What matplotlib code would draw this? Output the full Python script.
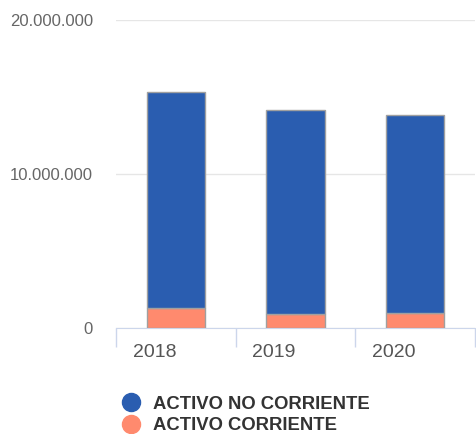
import matplotlib.pyplot as plt
from matplotlib.lines import Line2D
import numpy as np

years = ["2018", "2019", "2020"]
activo_corriente = [1280000, 890000, 970000]
activo_no_corriente = [14020000, 13260000, 12880000]
y_ticks = [0, 10000000, 20000000]
y_labels = ["0", "10.000.000", "20.000.000"]

blue = "#2a5db0"
salmon = "#ff8a6e"

plt.rcParams["font.family"] = ["Liberation Sans", "DejaVu Sans"]

fig = plt.figure(figsize=(4.76, 4.34), dpi=100)
ax = fig.add_axes([116 / 476, 1 - 328 / 434, 359 / 476, 308 / 434])

x = np.arange(len(years))
ax.bar(x, activo_corriente, width=0.485, color=salmon, edgecolor="#a0a0a0", linewidth=1, zorder=3)
ax.bar(x, activo_no_corriente, width=0.485, bottom=activo_corriente, color=blue,
       edgecolor="#a0a0a0", linewidth=1, zorder=3)

ax.set_xlim(-0.5, 2.5)
ax.set_ylim(0, 20000000)
ax.set_yticks(y_ticks)
ax.set_yticklabels(y_labels, color="#666666", fontsize=12)
ax.tick_params(axis="y", length=0, pad=16.5)
ax.grid(axis="y", color="#e6e6e6", linewidth=1, zorder=0)

# category boundaries as ticks, labels placed manually
ax.set_xticks(np.arange(-0.5, 3, 1))
ax.set_xticklabels([])
ax.tick_params(axis="x", length=14, color="#ccd6eb", width=1)
for i, yr in enumerate(years):
    ax.text(i - 0.36, -0.08, yr, transform=ax.get_xaxis_transform(),
            ha="left", va="center", fontsize=14, color="#555555")

for s in ["top", "right", "left"]:
    ax.spines[s].set_visible(False)
ax.spines["bottom"].set_color("#ccd6eb")

handles = [Line2D([], [], marker="o", linestyle="", markersize=13, color=blue),
           Line2D([], [], marker="o", linestyle="", markersize=13, color=salmon)]
fig.legend(handles, ["ACTIVO NO CORRIENTE", "ACTIVO CORRIENTE"], loc="center left",
           bbox_to_anchor=(104 / 476, 1 - 415 / 434), frameon=False, handletextpad=0.65,
           labelspacing=0.25, prop={"weight": "bold", "size": 13.3}, labelcolor="#333333",
           handlelength=1.1)

fig.savefig("out.png", dpi=100)
